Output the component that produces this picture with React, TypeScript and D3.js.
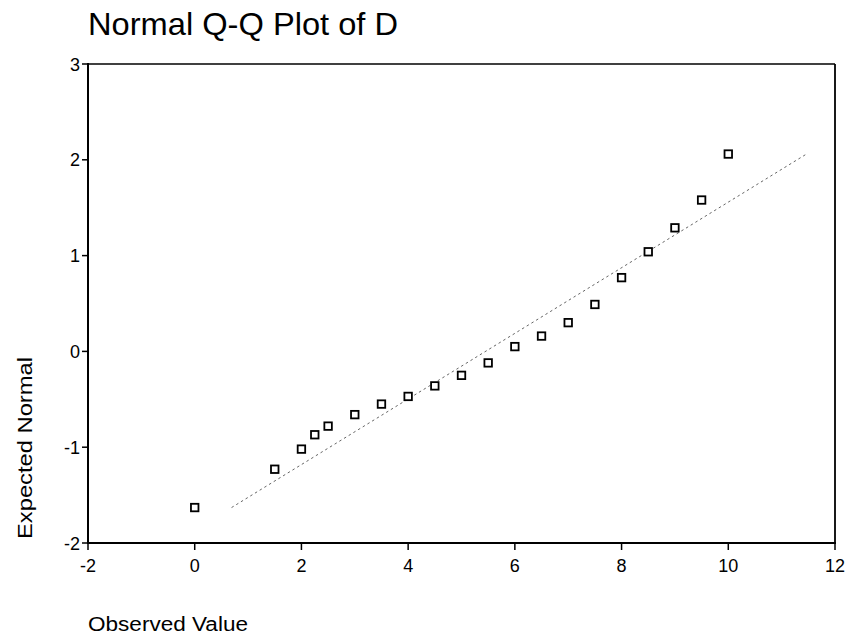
import React from "react";
import * as d3 from "d3";

// Observed values of D and their expected normal scores
const observed = [0, 1.5, 2, 2.25, 2.5, 3, 3.5, 4, 4.5, 5, 5.5, 6, 6.5, 7, 7.5, 8, 8.5, 9, 9.5, 10];
const expected = [-1.63, -1.23, -1.02, -0.87, -0.78, -0.66, -0.55, -0.47, -0.36, -0.25, -0.12, 0.05, 0.16, 0.3, 0.49, 0.77, 1.04, 1.29, 1.58, 2.06];

// Normal reference line parameters (mean and standard deviation of D)
const refMean = 5.45;
const refSd = 2.92;

const xTicks = [-2, 0, 2, 4, 6, 8, 10, 12];
const yTicks = [-2, -1, 0, 1, 2, 3];

const W = 848;
const H = 639;
const left = 88;
const right = 835;
const top = 64;
const bottom = 543;
const FONT = "'Liberation Sans', Arial, Helvetica, sans-serif";

export default function App() {
  const x = d3.scaleLinear().domain([-2, 12]).range([left, right]);
  const y = d3.scaleLinear().domain([-2, 3]).range([bottom, top]);

  const yMin = d3.min(expected) as number;
  const yMax = d3.max(expected) as number;
  const refPts: [number, number][] = [
    [refMean + yMin * refSd, yMin],
    [refMean + yMax * refSd, yMax],
  ];
  const line = d3
    .line<[number, number]>()
    .x((d) => x(d[0]))
    .y((d) => y(d[1]));

  const box = 7.5;

  return (
    <svg
      width={W}
      height={H}
      style={{ position: "absolute", left: 0, top: 0, background: "#fff" }}
      fontFamily={FONT}
    >
      <rect x={0} y={0} width={W} height={H} fill="#fff" />
      <text x={88} y={35} fontSize={32} fill="#000" textLength={310} lengthAdjust="spacingAndGlyphs">
        Normal Q-Q Plot of D
      </text>

      {/* frame */}
      <line x1={left} x2={right} y1={top} y2={top} stroke="#000" strokeWidth={1.5} />
      <line x1={right} x2={right} y1={top} y2={bottom} stroke="#000" strokeWidth={1.8} />
      <line x1={left} x2={left} y1={top - 1} y2={bottom + 1} stroke="#000" strokeWidth={2} />
      <line x1={left - 1} x2={right + 1} y1={bottom} y2={bottom} stroke="#000" strokeWidth={2} />

      {/* y axis */}
      {yTicks.map((t) => (
        <g key={"y" + t}>
          <line x1={left - 6} x2={left} y1={y(t)} y2={y(t)} stroke="#000" strokeWidth={1.5} />
          <text x={left - 8} y={y(t) + 6.5} fontSize={18} textAnchor="end" fill="#000">
            {t}
          </text>
        </g>
      ))}

      {/* x axis */}
      {xTicks.map((t) => (
        <g key={"x" + t}>
          <line x1={x(t)} x2={x(t)} y1={bottom} y2={bottom + 7} stroke="#000" strokeWidth={1.5} />
          <text x={x(t)} y={bottom + 29} fontSize={18} textAnchor="middle" fill="#000">
            {t}
          </text>
        </g>
      ))}

      <text x={88} y={631} fontSize={20} fill="#000" textLength={160} lengthAdjust="spacingAndGlyphs">
        Observed Value
      </text>
      <text
        transform={`translate(32, 448) rotate(-90)`}
        textAnchor="middle"
        fontSize={20}
        fill="#000"
        textLength={182}
        lengthAdjust="spacingAndGlyphs"
      >
        Expected Normal
      </text>

      {/* normal reference line */}
      <path d={line(refPts) || ""} fill="none" stroke="#666" strokeWidth={1} strokeDasharray="2.5,3" />

      {/* points */}
      {observed.map((o, i) => (
        <rect
          key={i}
          x={x(o) - box / 2}
          y={y(expected[i]) - box / 2}
          width={box}
          height={box}
          fill="#fff"
          stroke="#000"
          strokeWidth={1.8}
        />
      ))}
    </svg>
  );
}
